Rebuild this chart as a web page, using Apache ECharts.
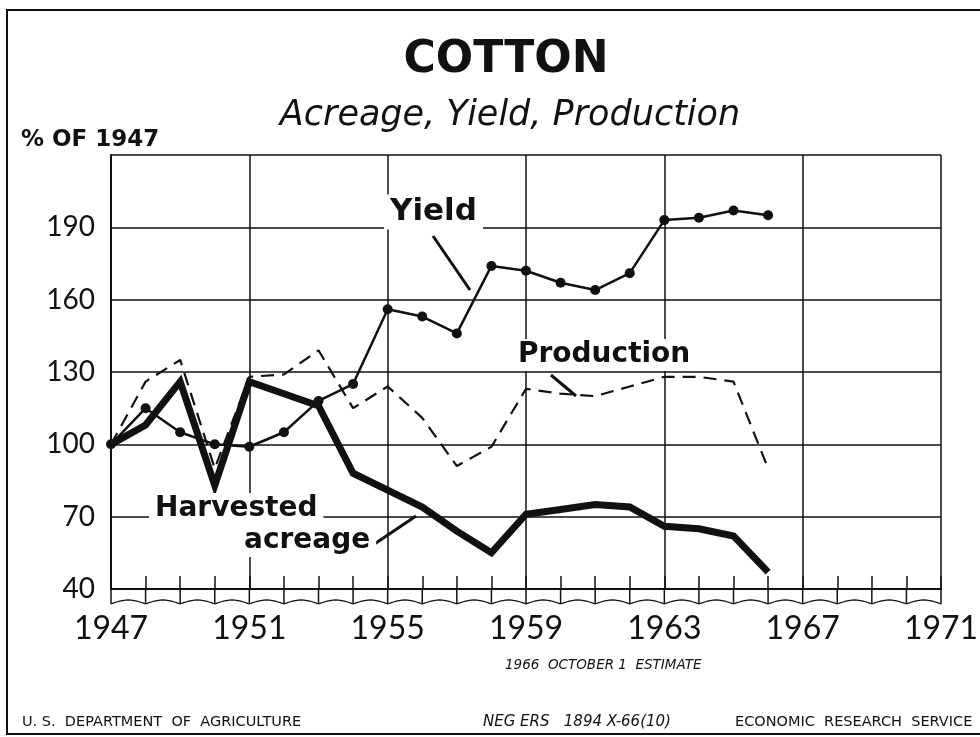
<!DOCTYPE html>
<html>
<head>
<meta charset="utf-8">
<script src="https://cdn.jsdelivr.net/npm/echarts@6/dist/echarts.min.js"></script>
<style>
  html, body { margin: 0; padding: 0; background: #fff; }
  #chart { width: 980px; height: 737px; }
</style>
</head>
<body>
<div id="chart"></div>
<script>
// values, % of 1947
const years = [1947, 1948, 1949, 1950, 1951, 1952, 1953, 1954, 1955, 1956,
               1957, 1958, 1959, 1960, 1961, 1962, 1963, 1964, 1965, 1966];
const yieldPct = [100, 115, 105, 100, 99, 105, 118, 125, 156, 153,
                  146, 174, 172, 167, 164, 171, 193, 194, 197, 195];
const acreagePct = [100, 108, 126, 83, 126, 121, 116, 88, 81, 74,
                    64, 55, 71, 73, 75, 74, 66, 65, 62, 47];
const productionPct = [100, 126, 135, 90, 128, 129, 139, 115, 124, 111,
                       91, 99, 123, 121, 120, 124, 128, 128, 126, 90];
const xTicks = [1947, 1951, 1955, 1959, 1963, 1967, 1971];
const yTicks = [40, 70, 100, 130, 160, 190];

const pairs = vals => years.map((y, i) => [y, vals[i]]);

const chart = echarts.init(document.getElementById('chart'));
const ink = '#111';

const option = {
  backgroundColor: '#fff',
  animation: false,
  grid: { left: 111, right: 39, top: 155, bottom: 148, outerBoundsMode: 'none' },
  xAxis: {
    type: 'value',
    min: xTicks[0], max: xTicks[xTicks.length - 1], interval: 4,
    axisLine: { show: true, lineStyle: { color: ink, width: 2 } },
    axisTick: { show: true, inside: true, length: 13, lineStyle: { color: ink, width: 1.5 } },
    minorTick: { show: true, splitNumber: 4, length: 13, lineStyle: { color: ink, width: 1.5 } },
    splitLine: { show: true, lineStyle: { color: ink, width: 1.5 } },
    axisLabel: { color: ink, fontFamily: 'Lato', fontSize: 32, margin: 24,
      formatter: v => String(v) }
  },
  yAxis: {
    type: 'value',
    min: 40, max: 220, interval: 30,
    axisLine: { show: true, lineStyle: { color: ink, width: 2 } },
    axisTick: { show: false },
    splitLine: { show: true, lineStyle: { color: ink, width: 1.5 } },
    axisLabel: {
      color: ink, fontFamily: 'Lato', fontSize: 28, margin: 16,
      formatter: v => (yTicks.indexOf(v) >= 0 ? String(v) : '')
    }
  },
  series: [
    {
      name: 'Production', type: 'line', data: pairs(productionPct),
      symbol: 'none', z: 3,
      lineStyle: { color: ink, width: 2.2, type: [13, 8] }
    },
    {
      name: 'Yield', type: 'line', data: pairs(yieldPct),
      symbol: 'circle', symbolSize: 10, z: 4,
      itemStyle: { color: ink },
      lineStyle: { color: ink, width: 2.5 }
    },
    {
      name: 'Harvested acreage', type: 'line', data: pairs(acreagePct),
      symbol: 'none', z: 5,
      lineStyle: { color: ink, width: 7, join: 'miter' }
    }
  ]
};
chart.setOption(option);

// decorations: frame, titles, annotations, broken-axis scallops
const g = [];
g.push({ type: 'rect', shape: { x: 7, y: 10, width: 990, height: 724 },
  style: { fill: null, stroke: ink, lineWidth: 2 }, silent: true, z: -1 });

function txt(x, y, text, size, weight, style, align) {
  return {
    type: 'text', x: x, y: y, z: 10,
    style: { text: text, fill: ink, fontFamily: 'DejaVu Sans', fontSize: size,
      fontWeight: weight || 'normal', fontStyle: style || 'normal',
      align: align || 'left', verticalAlign: 'middle' }
  };
}
function labelBox(x, y, text, size) {
  const t = txt(x, y, text, size, 'bold', 'normal', 'left');
  t.style.backgroundColor = '#fff';
  t.style.padding = [2, 6];
  return t;
}
function seg(x1, y1, x2, y2, w) {
  return { type: 'line', z: 9, shape: { x1: x1, y1: y1, x2: x2, y2: y2 },
    style: { stroke: ink, lineWidth: w || 3 } };
}

g.push(txt(506, 61, 'COTTON', 44, 'bold', 'normal', 'center'));
g.push(txt(510, 116, 'Acreage, Yield, Production', 35, 'normal', 'italic', 'center'));
g.push(txt(21, 140, '% OF 1947', 23, 'bold'));

g.push(labelBox(384, 212, 'Yield', 31));
g.push(seg(433, 236, 470, 290));
g.push(labelBox(512, 355, 'Production', 28));
g.push(seg(551, 375, 576, 396));
g.push(labelBox(149, 509, 'Harvested', 28));
g.push(labelBox(238, 541, 'acreage', 28));
g.push(seg(373, 545, 416, 516));

g.push(txt(505, 665, '1966  OCTOBER 1  ESTIMATE', 13.5, 'normal', 'italic'));
g.push(txt(22, 722, 'U. S.  DEPARTMENT  OF  AGRICULTURE', 14.5));
g.push(txt(483, 722, 'NEG ERS   1894 X-66(10)', 15, 'normal', 'italic'));
g.push(txt(735, 722, 'ECONOMIC  RESEARCH  SERVICE', 14.5));

// scalloped break line under the axis, one arc per year
const base = chart.convertToPixel({ gridIndex: 0 }, [1947, 40])[1];
for (let yr = 1947; yr < 1971; yr++) {
  const xa = chart.convertToPixel({ gridIndex: 0 }, [yr, 40])[0];
  const xb = chart.convertToPixel({ gridIndex: 0 }, [yr + 1, 40])[0];
  const pts = [];
  for (let k = 0; k <= 12; k++) {
    const t = k / 12;
    pts.push([xa + (xb - xa) * t, base + 15 - 4 * Math.sin(Math.PI * t)]);
  }
  g.push({ type: 'polyline', z: 8, shape: { points: pts },
    style: { stroke: ink, lineWidth: 1.3, fill: null } });
  g.push(seg(xa, base, xa, base + 15, 1.5));
}
const xEnd = chart.convertToPixel({ gridIndex: 0 }, [1971, 40])[0];
g.push(seg(xEnd, base, xEnd, base + 15, 1.5));

chart.setOption({ graphic: g });
</script>
</body>
</html>
